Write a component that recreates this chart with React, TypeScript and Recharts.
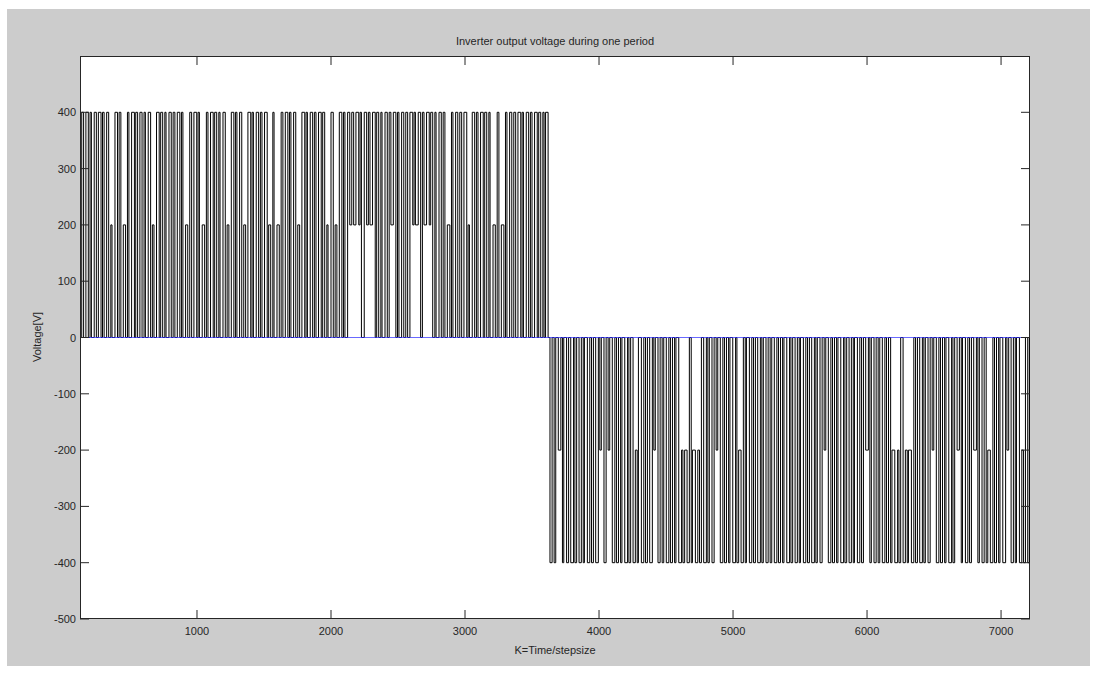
import { LineChart, Line, XAxis, YAxis } from "recharts";

// time span of one period (steps) and axis ticks
const kSpan = [127, 7216];
const kTicks = [1000, 2000, 3000, 4000, 5000, 6000, 7000];
const voltTicks = [-500, -400, -300, -200, -100, 0, 100, 200, 300, 400];

// positive half-wave: pulse start (step), pulse width (steps), level during pulse, level after pulse
const posRise = [
  140, 171, 202, 233, 264, 295, 326, 357, 388, 419,
  450, 481, 512, 543, 574, 605, 636, 667, 698, 729,
  760, 791, 822, 853, 884, 915, 946, 977, 1008, 1039,
  1070, 1101, 1132, 1163, 1194, 1225, 1256, 1287, 1318, 1349,
  1380, 1411, 1442, 1473, 1504, 1535, 1566, 1597, 1628, 1659,
  1690, 1721, 1752, 1783, 1814, 1845, 1876, 1907, 1938, 1969,
  2000, 2031, 2062, 2093, 2124, 2155, 2186, 2217, 2248, 2279,
  2310, 2341, 2372, 2403, 2434, 2465, 2496, 2527, 2558, 2589,
  2620, 2651, 2682, 2713, 2744, 2775, 2806, 2837, 2868, 2899,
  2930, 2961, 2992, 3023, 3054, 3085, 3116, 3147, 3178, 3209,
  3240, 3271, 3302, 3333, 3364, 3395, 3426, 3457, 3488, 3519,
  3550, 3581, 3601,
];
const posWidth = [
  14, 18, 10, 16, 20, 12, 15, 9, 19, 13,
  17, 11, 21, 14, 16, 10, 18, 12, 20, 15,
  9, 17, 13, 19, 11, 16, 14, 21, 10, 18,
  12, 20, 15, 9, 17, 13, 19, 11, 16, 14,
  21, 10, 18, 12, 20, 15, 9, 17, 13, 19,
  11, 16, 14, 21, 10, 18, 12, 20, 15, 9,
  17, 13, 19, 11, 16, 14, 21, 10, 18, 12,
  20, 15, 9, 17, 13, 19, 11, 16, 14, 21,
  10, 18, 12, 20, 15, 9, 17, 13, 19, 11,
  16, 14, 21, 10, 18, 12, 20, 15, 9, 17,
  13, 19, 11, 16, 14, 21, 10, 18, 12, 20,
  15, 9, 19,
];
const posHigh = [
  400, 400, 400, 400, 400, 400, 400, 200, 400, 400,
  200, 400, 400, 400, 400, 400, 400, 200, 400, 400,
  400, 400, 400, 400, 400, 200, 400, 400, 400, 200,
  400, 400, 400, 400, 400, 200, 400, 400, 400, 200,
  400, 400, 400, 400, 400, 200, 400, 200, 400, 400,
  400, 400, 200, 400, 400, 400, 400, 400, 400, 200,
  400, 200, 400, 400, 400, 400, 400, 400, 400, 400,
  400, 400, 400, 400, 400, 400, 400, 400, 400, 400,
  400, 400, 400, 400, 400, 400, 400, 400, 200, 400,
  400, 400, 400, 200, 400, 400, 400, 400, 400, 200,
  400, 200, 400, 400, 400, 400, 400, 400, 400, 400,
  400, 400, 400,
];
const posLow = [
  0, 0, 0, 0, 0, 0, 0, 0, 0, 0,
  0, 0, 0, 0, 0, 0, 0, 0, 0, 0,
  0, 0, 0, 0, 0, 0, 0, 0, 0, 0,
  0, 0, 0, 0, 0, 0, 0, 0, 0, 0,
  0, 0, 0, 0, 0, 0, 0, 0, 0, 0,
  0, 0, 0, 0, 0, 0, 0, 0, 0, 0,
  0, 0, 0, 0, 200, 200, 200, 0, 200, 200,
  0, 0, 0, 0, 200, 0, 0, 0, 0, 200,
  200, 0, 200, 200, 0, 0, 0, 0, 0, 0,
  0, 0, 0, 0, 0, 0, 0, 0, 0, 0,
  0, 0, 0, 0, 0, 0, 0, 0, 0, 0,
  0, 0, 0,
];

// negative half-wave
const negRise = [
  3634, 3665, 3696, 3727, 3758, 3789, 3820, 3851, 3882, 3913,
  3944, 3975, 4006, 4037, 4068, 4099, 4130, 4161, 4192, 4223,
  4254, 4285, 4316, 4347, 4378, 4409, 4440, 4471, 4502, 4533,
  4564, 4595, 4626, 4657, 4688, 4719, 4750, 4781, 4812, 4843,
  4874, 4905, 4936, 4967, 4998, 5029, 5060, 5091, 5122, 5153,
  5184, 5215, 5246, 5277, 5308, 5339, 5370, 5401, 5432, 5463,
  5494, 5525, 5556, 5587, 5618, 5649, 5680, 5711, 5742, 5773,
  5804, 5835, 5866, 5897, 5928, 5959, 5990, 6021, 6052, 6083,
  6114, 6145, 6176, 6207, 6238, 6269, 6300, 6331, 6362, 6393,
  6424, 6455, 6486, 6517, 6548, 6579, 6610, 6641, 6672, 6703,
  6734, 6765, 6796, 6827, 6858, 6889, 6920, 6951, 6982, 7013,
  7044, 7075, 7106, 7137, 7168, 7199,
];
const negWidth = [
  16, 12, 19, 10, 15, 21, 13, 17, 9, 18,
  14, 20, 11, 16, 12, 19, 15, 10, 21, 13,
  17, 9, 18, 14, 20, 11, 16, 12, 19, 15,
  10, 21, 13, 17, 9, 18, 14, 20, 11, 16,
  12, 19, 15, 10, 21, 13, 17, 9, 18, 14,
  20, 11, 16, 12, 19, 15, 10, 21, 13, 17,
  9, 18, 14, 20, 11, 16, 12, 19, 15, 10,
  21, 13, 17, 9, 18, 14, 20, 11, 16, 12,
  19, 15, 10, 21, 13, 17, 9, 18, 14, 20,
  11, 16, 12, 19, 15, 10, 21, 13, 17, 9,
  18, 14, 20, 11, 16, 12, 19, 15, 10, 21,
  13, 17, 9, 18, 14, 12,
];
const negHigh = [
  -400, -400, -200, -400, -400, -400, -400, -400, -400, -400,
  -400, -400, -200, -400, -200, -400, -400, -400, -400, -400,
  -400, -400, -400, -400, -400, -200, -400, -400, -400, -400,
  -400, -400, -400, -400, -400, -400, -400, -400, -400, -400,
  -200, -400, -400, -400, -400, -400, -400, -400, -400, -400,
  -400, -400, -400, -400, -400, -400, -400, -400, -400, -400,
  -400, -400, -400, -400, -400, -400, -200, -400, -400, -400,
  -400, -400, -400, -400, -400, -400, -200, -400, -400, -400,
  -400, -400, -400, -400, -400, -400, -400, -400, -400, -400,
  -400, -400, -200, -400, -400, -400, -400, -400, -200, -400,
  -400, -400, -200, -400, -400, -400, -400, -400, -400, -400,
  -200, -400, -400, -400, -400, -400,
];
const negLow = [
  0, 0, 0, 0, 0, 0, 0, 0, 0, 0,
  0, 0, 0, 0, 0, 0, 0, 0, 0, 0,
  -200, 0, 0, 0, 0, 0, 0, 0, 0, 0,
  0, -200, -200, 0, -200, -200, 0, 0, 0, 0,
  0, 0, 0, 0, 0, -200, 0, 0, 0, 0,
  0, 0, 0, 0, 0, 0, 0, 0, 0, 0,
  0, 0, 0, 0, 0, 0, 0, 0, 0, 0,
  0, 0, 0, 0, 0, 0, 0, 0, 0, 0,
  0, 0, -200, -200, 0, -200, -200, 0, 0, 0,
  0, 0, 0, 0, 0, 0, 0, 0, 0, 0,
  0, 0, 0, 0, 0, -200, 0, 0, 0, 0,
  0, 0, 0, -200, 0, 0,
];

const PLOT_LEFT = 80;
const PLOT_RIGHT = 1030;
const PLOT_TOP = 56;
const PLOT_BOTTOM = 619;
const TICK = 9;
const INK = "#262626";
const FONT = 'Arial, "Liberation Sans", sans-serif';

// step waveform: each pulse switches to its level, then back after its width
const buildWave = () => {
  const pts = [{ k: kSpan[0], v: 0 }];
  posRise.forEach((r, i) => {
    pts.push({ k: r, v: posHigh[i] });
    pts.push({ k: r + posWidth[i], v: posLow[i] });
  });
  negRise.forEach((r, i) => {
    pts.push({ k: r, v: negHigh[i] });
    pts.push({ k: r + negWidth[i], v: negLow[i] });
  });
  pts.push({ k: kSpan[1], v: 0 });
  return pts;
};

const wave = buildWave();
const zeroRef = kSpan.map((k) => ({ k, v: 0 }));

// inward ticks on bottom and top, label below
const KTick = ({ x, payload }: any) => (
  <g>
    <line x1={x} x2={x} y1={PLOT_BOTTOM} y2={PLOT_BOTTOM - TICK} stroke={INK} />
    <line x1={x} x2={x} y1={PLOT_TOP} y2={PLOT_TOP + TICK} stroke={INK} />
    <text x={x} y={PLOT_BOTTOM + 16} textAnchor="middle" fontSize={11} fontFamily={FONT} fill={INK}>
      {payload.value}
    </text>
  </g>
);

// inward ticks on left and right, label left
const VTick = ({ y, payload }: any) => (
  <g>
    <line x1={PLOT_LEFT} x2={PLOT_LEFT + TICK} y1={y} y2={y} stroke={INK} />
    <line x1={PLOT_RIGHT} x2={PLOT_RIGHT - TICK} y1={y} y2={y} stroke={INK} />
    <text x={PLOT_LEFT - 4} y={y + 4} textAnchor="end" fontSize={11} fontFamily={FONT} fill={INK}>
      {payload.value}
    </text>
  </g>
);

export default function App() {
  return (
    <div style={{ position: "fixed", left: 0, top: 0, width: 1097, height: 673, background: "#fff", fontFamily: FONT }}>
      <div style={{ position: "absolute", left: 7, top: 9, width: 1083, height: 657, background: "#cccccc" }} />
      <div
        style={{
          position: "absolute",
          left: PLOT_LEFT,
          top: PLOT_TOP,
          width: PLOT_RIGHT - PLOT_LEFT,
          height: PLOT_BOTTOM - PLOT_TOP,
          background: "#fff",
          border: `1px solid ${INK}`,
          boxSizing: "border-box",
        }}
      />
      <div style={{ position: "absolute", left: 0, top: 0 }}>
        <LineChart width={1097} height={673} margin={{ top: PLOT_TOP, right: 1097 - PLOT_RIGHT, bottom: 0, left: 0 }}>
          <XAxis
            dataKey="k"
            type="number"
            domain={kSpan}
            ticks={kTicks}
            allowDataOverflow
            height={673 - PLOT_BOTTOM}
            axisLine={false}
            tickLine={false}
            tick={<KTick />}
          />
          <YAxis
            type="number"
            domain={[-500, 500]}
            ticks={voltTicks}
            allowDataOverflow
            width={PLOT_LEFT}
            axisLine={false}
            tickLine={false}
            tick={<VTick />}
          />
          <Line
            data={wave}
            dataKey="v"
            type="stepAfter"
            stroke="#000"
            strokeWidth={1}
            dot={false}
            isAnimationActive={false}
          />
          <Line
            data={zeroRef}
            dataKey="v"
            type="linear"
            stroke="#2a2aff"
            strokeOpacity={0.7}
            strokeWidth={1}
            dot={false}
            isAnimationActive={false}
          />
        </LineChart>
      </div>
      <div style={{ position: "absolute", left: PLOT_LEFT, width: PLOT_RIGHT - PLOT_LEFT, top: 36, textAlign: "center", fontSize: 11, lineHeight: "11px", color: INK }}>
        Inverter output voltage during one period
      </div>
      <div style={{ position: "absolute", left: PLOT_LEFT, width: PLOT_RIGHT - PLOT_LEFT, top: 645, textAlign: "center", fontSize: 11, lineHeight: "11px", color: INK }}>
        K=Time/stepsize
      </div>
      <div
        style={{
          position: "absolute",
          left: 37,
          top: 337,
          transform: "translate(-50%, -50%) rotate(-90deg)",
          fontSize: 11,
          lineHeight: "11px",
          color: INK,
          whiteSpace: "nowrap",
        }}
      >
        Voltage[V]
      </div>
    </div>
  );
}
